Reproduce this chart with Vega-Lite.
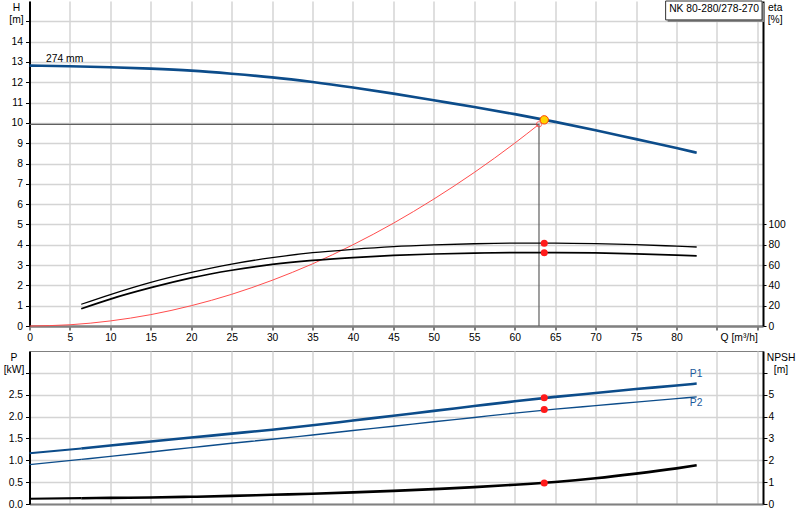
{
  "$schema": "https://vega.github.io/schema/vega-lite/v6.json",
  "padding": {"left": 2.5, "top": 0, "right": 0, "bottom": 0},
  "spacing": 7,
  "config": {
    "font": "Liberation Sans",
    "view": {"stroke": null},
    "axis": {
      "labelFont": "Liberation Sans", "labelFontSize": 10.3, "labelColor": "#000",
      "titleFont": "Liberation Sans", "titleFontSize": 10.3, "titleFontWeight": "normal", "titleColor": "#000",
      "tickColor": "#000", "tickSize": 4, "labelPadding": 3,
      "gridColor": "#d4d4d4", "gridWidth": 1.5
    },
    "line": {"interpolate": "monotone"},
    "text": {"font": "Liberation Sans", "fontSize": 10.3}
  },
  "datasets": {
    "head": [
      {"Q": 0, "H": 12.82}, {"Q": 5, "H": 12.79}, {"Q": 10, "H": 12.74}, {"Q": 15, "H": 12.67},
      {"Q": 20, "H": 12.57}, {"Q": 25, "H": 12.42}, {"Q": 30, "H": 12.24}, {"Q": 35, "H": 12.01},
      {"Q": 40, "H": 11.74}, {"Q": 45, "H": 11.44}, {"Q": 50, "H": 11.11}, {"Q": 55, "H": 10.78},
      {"Q": 60, "H": 10.43}, {"Q": 65, "H": 10.05}, {"Q": 70, "H": 9.64}, {"Q": 75, "H": 9.20},
      {"Q": 80, "H": 8.76}, {"Q": 82.5, "H": 8.53}
    ],
    "system": [
      {"Q": 0, "H": 0}, {"Q": 5, "H": 0.06}, {"Q": 10, "H": 0.25}, {"Q": 15, "H": 0.56},
      {"Q": 20, "H": 1.0}, {"Q": 25, "H": 1.56}, {"Q": 30, "H": 2.25}, {"Q": 35, "H": 3.06},
      {"Q": 40, "H": 4.0}, {"Q": 45, "H": 5.06}, {"Q": 50, "H": 6.25}, {"Q": 55, "H": 7.56},
      {"Q": 60, "H": 9.0}, {"Q": 63, "H": 9.93}
    ],
    "dutyLines": [
      {"Q": 0, "H": 9.93, "step": 1}, {"Q": 63, "H": 9.93, "step": 2}, {"Q": 63, "H": 0, "step": 3}
    ],
    "duty": [{"Q": 63, "H": 9.93}],
    "opHead": [{"Q": 63.65, "H": 10.15}],
    "curveLabel": [{"Q": 2.05, "H": 13.15, "text": "274 mm"}],
    "box": [{"Q": 78.66, "Q2": 90.58, "H": 15.07, "H2": 16, "Ht": 15.63, "name": "NK 80-280/278-270"}],
    "eta": [
      {"Q": 6.4, "eta": 21.4, "curve": "eta pump"}, {"Q": 10, "eta": 31.0, "curve": "eta pump"},
      {"Q": 15, "eta": 43.0, "curve": "eta pump"}, {"Q": 20, "eta": 52.8, "curve": "eta pump"},
      {"Q": 25, "eta": 61.0, "curve": "eta pump"}, {"Q": 30, "eta": 67.3, "curve": "eta pump"},
      {"Q": 35, "eta": 72.2, "curve": "eta pump"}, {"Q": 40, "eta": 75.5, "curve": "eta pump"},
      {"Q": 45, "eta": 78.1, "curve": "eta pump"}, {"Q": 50, "eta": 79.8, "curve": "eta pump"},
      {"Q": 55, "eta": 81.0, "curve": "eta pump"}, {"Q": 60, "eta": 81.6, "curve": "eta pump"},
      {"Q": 65, "eta": 81.6, "curve": "eta pump"}, {"Q": 70, "eta": 81.1, "curve": "eta pump"},
      {"Q": 75, "eta": 80.1, "curve": "eta pump"}, {"Q": 80, "eta": 78.6, "curve": "eta pump"},
      {"Q": 82.5, "eta": 77.8, "curve": "eta pump"},
      {"Q": 6.4, "eta": 17.0, "curve": "eta pump+motor"}, {"Q": 10, "eta": 26.5, "curve": "eta pump+motor"},
      {"Q": 15, "eta": 37.7, "curve": "eta pump+motor"}, {"Q": 20, "eta": 47.4, "curve": "eta pump+motor"},
      {"Q": 25, "eta": 54.9, "curve": "eta pump+motor"}, {"Q": 30, "eta": 60.6, "curve": "eta pump+motor"},
      {"Q": 35, "eta": 64.6, "curve": "eta pump+motor"}, {"Q": 40, "eta": 67.4, "curve": "eta pump+motor"},
      {"Q": 45, "eta": 69.5, "curve": "eta pump+motor"}, {"Q": 50, "eta": 70.9, "curve": "eta pump+motor"},
      {"Q": 55, "eta": 71.8, "curve": "eta pump+motor"}, {"Q": 60, "eta": 72.2, "curve": "eta pump+motor"},
      {"Q": 65, "eta": 72.2, "curve": "eta pump+motor"}, {"Q": 70, "eta": 71.9, "curve": "eta pump+motor"},
      {"Q": 75, "eta": 71.0, "curve": "eta pump+motor"}, {"Q": 80, "eta": 69.8, "curve": "eta pump+motor"},
      {"Q": 82.5, "eta": 69.0, "curve": "eta pump+motor"}
    ],
    "opEta": [{"Q": 63.65, "eta": 81.5}, {"Q": 63.65, "eta": 72.2}],
    "power": [
      {"Q": 0, "P": 1.16, "curve": "P1", "range": "outside"}, {"Q": 6.4, "P": 1.27, "curve": "P1", "range": "outside"},
      {"Q": 6.4, "P": 1.27, "curve": "P1", "range": "inside"}, {"Q": 10, "P": 1.34, "curve": "P1", "range": "inside"},
      {"Q": 15, "P": 1.43, "curve": "P1", "range": "inside"}, {"Q": 20, "P": 1.52, "curve": "P1", "range": "inside"},
      {"Q": 25, "P": 1.61, "curve": "P1", "range": "inside"}, {"Q": 30, "P": 1.70, "curve": "P1", "range": "inside"},
      {"Q": 35, "P": 1.80, "curve": "P1", "range": "inside"}, {"Q": 40, "P": 1.91, "curve": "P1", "range": "inside"},
      {"Q": 45, "P": 2.02, "curve": "P1", "range": "inside"}, {"Q": 50, "P": 2.13, "curve": "P1", "range": "inside"},
      {"Q": 55, "P": 2.24, "curve": "P1", "range": "inside"}, {"Q": 60, "P": 2.35, "curve": "P1", "range": "inside"},
      {"Q": 65, "P": 2.45, "curve": "P1", "range": "inside"}, {"Q": 70, "P": 2.54, "curve": "P1", "range": "inside"},
      {"Q": 75, "P": 2.63, "curve": "P1", "range": "inside"}, {"Q": 80, "P": 2.71, "curve": "P1", "range": "inside"},
      {"Q": 82.5, "P": 2.755, "curve": "P1", "range": "inside"},
      {"Q": 0, "P": 0.90, "curve": "P2", "range": "outside"}, {"Q": 6.4, "P": 1.02, "curve": "P2", "range": "outside"},
      {"Q": 6.4, "P": 1.02, "curve": "P2", "range": "inside"}, {"Q": 10, "P": 1.09, "curve": "P2", "range": "inside"},
      {"Q": 15, "P": 1.19, "curve": "P2", "range": "inside"}, {"Q": 20, "P": 1.29, "curve": "P2", "range": "inside"},
      {"Q": 25, "P": 1.39, "curve": "P2", "range": "inside"}, {"Q": 30, "P": 1.48, "curve": "P2", "range": "inside"},
      {"Q": 35, "P": 1.58, "curve": "P2", "range": "inside"}, {"Q": 40, "P": 1.68, "curve": "P2", "range": "inside"},
      {"Q": 45, "P": 1.78, "curve": "P2", "range": "inside"}, {"Q": 50, "P": 1.88, "curve": "P2", "range": "inside"},
      {"Q": 55, "P": 1.98, "curve": "P2", "range": "inside"}, {"Q": 60, "P": 2.08, "curve": "P2", "range": "inside"},
      {"Q": 65, "P": 2.17, "curve": "P2", "range": "inside"}, {"Q": 70, "P": 2.25, "curve": "P2", "range": "inside"},
      {"Q": 75, "P": 2.33, "curve": "P2", "range": "inside"}, {"Q": 80, "P": 2.41, "curve": "P2", "range": "inside"},
      {"Q": 82.5, "P": 2.45, "curve": "P2", "range": "inside"}
    ],
    "opPower": [{"Q": 63.65, "P": 2.43}, {"Q": 63.65, "P": 2.16}],
    "powerLabel": [{"Q": 81.65, "P": 2.975, "text": "P1"}, {"Q": 81.65, "P": 2.305, "text": "P2"}],
    "npsh": [
      {"Q": 0, "NPSH": 0.24, "range": "outside"}, {"Q": 6.4, "NPSH": 0.265, "range": "outside"},
      {"Q": 6.4, "NPSH": 0.265, "range": "inside"}, {"Q": 10, "NPSH": 0.28, "range": "inside"},
      {"Q": 15, "NPSH": 0.30, "range": "inside"}, {"Q": 20, "NPSH": 0.33, "range": "inside"},
      {"Q": 25, "NPSH": 0.37, "range": "inside"}, {"Q": 30, "NPSH": 0.42, "range": "inside"},
      {"Q": 35, "NPSH": 0.47, "range": "inside"}, {"Q": 40, "NPSH": 0.53, "range": "inside"},
      {"Q": 45, "NPSH": 0.60, "range": "inside"}, {"Q": 50, "NPSH": 0.68, "range": "inside"},
      {"Q": 55, "NPSH": 0.77, "range": "inside"}, {"Q": 60, "NPSH": 0.88, "range": "inside"},
      {"Q": 65, "NPSH": 1.01, "range": "inside"}, {"Q": 70, "NPSH": 1.18, "range": "inside"},
      {"Q": 75, "NPSH": 1.39, "range": "inside"}, {"Q": 80, "NPSH": 1.63, "range": "inside"},
      {"Q": 82.5, "NPSH": 1.77, "range": "inside"}
    ],
    "opNpsh": [{"Q": 63.65, "NPSH": 0.96}]
  },
  "vconcat": [
    {
      "width": 733.5,
      "height": 325,
      "encoding": {
        "x": {
          "field": "Q", "type": "quantitative",
          "scale": {"domain": [0, 90.7], "nice": false, "zero": false},
          "axis": {
            "values": [0, 5, 10, 15, 20, 25, 30, 35, 40, 45, 50, 55, 60, 65, 70, 75, 80, 85, 90],
            "labelExpr": "datum.value > 80 ? '' : datum.label",
            "labelFlush": false, "labelOverlap": false,
            "title": "Q [m³/h]", "titleX": 727.8, "titleY": 6, "titleAlign": "right", "titleBaseline": "top",
            "domainColor": "#808080", "domainWidth": 2.5, "tickSize": 4, "labelPadding": 2, "grid": true
          }
        }
      },
      "layer": [
        {
          "encoding": {
            "y": {
              "field": "H", "type": "quantitative",
              "scale": {"domain": [0, 16], "nice": false, "zero": false},
              "axis": {
                "values": [0, 1, 2, 3, 4, 5, 6, 7, 8, 9, 10, 11, 12, 13, 14, 15],
                "labelExpr": "datum.value > 14 ? '' : datum.label",
                "title": ["H", "[m]"], "titleAngle": 0, "titleAlign": "center", "titleBaseline": "top",
                "titleX": -13.5, "titleY": 1, "titleLineHeight": 12,
                "domainColor": "#000", "domainWidth": 2, "grid": true
              }
            }
          },
          "layer": [
            {
              "data": {"name": "system"},
              "mark": {"type": "line", "color": "#ff4d4d", "strokeWidth": 1}
            },
            {
              "data": {"name": "dutyLines"},
              "mark": {"type": "line", "color": "#606060", "strokeWidth": 1.2, "interpolate": "linear"},
              "encoding": {"order": {"field": "step", "type": "quantitative"}}
            },
            {
              "data": {"name": "head"},
              "mark": {"type": "line", "color": "#0c4c8a", "strokeWidth": 2.6}
            },
            {
              "data": {"name": "duty"},
              "mark": {"type": "point", "shape": "circle", "filled": false, "stroke": "#ff3030", "strokeWidth": 1, "size": 28}
            },
            {
              "data": {"name": "opHead"},
              "mark": {"type": "point", "shape": "circle", "filled": true, "fill": "#ffd400", "stroke": "#ff4000", "strokeWidth": 1, "size": 70, "opacity": 1}
            },
            {
              "data": {"name": "curveLabel"},
              "mark": {"type": "text", "align": "left", "baseline": "middle", "color": "#000"},
              "encoding": {"text": {"field": "text"}}
            },
            {
              "data": {"name": "box"},
              "mark": {"type": "rect", "fill": "#8a8a8a", "xOffset": 2, "x2Offset": 2, "yOffset": 2, "y2Offset": 2},
              "encoding": {"x2": {"field": "Q2"}, "y2": {"field": "H2"}}
            },
            {
              "data": {"name": "box"},
              "mark": {"type": "rect", "fill": "#ffffff", "stroke": "#333333", "strokeWidth": 1},
              "encoding": {"x2": {"field": "Q2"}, "y2": {"field": "H2"}}
            },
            {
              "data": {"name": "box"},
              "mark": {"type": "text", "align": "left", "baseline": "middle", "dx": 3.5, "color": "#000"},
              "encoding": {"y": {"field": "Ht", "type": "quantitative", "title": ["H", "[m]"]}, "text": {"field": "name"}}
            }
          ]
        },
        {
          "encoding": {
            "y": {
              "field": "eta", "type": "quantitative",
              "scale": {"domain": [0, 320], "nice": false, "zero": false},
              "axis": {
                "orient": "right", "values": [0, 20, 40, 60, 80, 100],
                "title": ["eta", "[%]"], "titleAngle": 0, "titleAlign": "center", "titleBaseline": "top",
                "titleX": 11.7, "titleY": 1, "titleLineHeight": 12,
                "grid": false, "domainColor": "#000", "domainWidth": 2, "tickSize": 3, "labelPadding": 2
              }
            }
          },
          "layer": [
            {
              "data": {"name": "eta"},
              "mark": {"type": "line", "color": "#000"},
              "encoding": {
                "detail": {"field": "curve"},
                "strokeWidth": {"field": "curve", "type": "ordinal", "scale": {"domain": ["eta pump", "eta pump+motor"], "range": [1.3, 2.6]}, "legend": null}
              }
            },
            {
              "data": {"name": "opEta"},
              "mark": {"type": "point", "shape": "circle", "filled": true, "color": "#ff1a1a", "size": 50, "opacity": 1}
            }
          ]
        }
      ],
      "resolve": {"scale": {"y": "independent"}, "axis": {"y": "independent"}}
    },
    {
      "width": 733.5,
      "height": 153,
      "view": {"stroke": "#808080", "strokeWidth": 1},
      "encoding": {
        "x": {
          "field": "Q", "type": "quantitative",
          "scale": {"domain": [0, 90.7], "nice": false, "zero": false},
          "axis": {
            "values": [0, 5, 10, 15, 20, 25, 30, 35, 40, 45, 50, 55, 60, 65, 70, 75, 80, 85, 90],
            "labels": false, "ticks": false, "title": null,
            "domainColor": "#808080", "domainWidth": 2, "grid": true
          }
        }
      },
      "layer": [
        {
          "encoding": {
            "y": {
              "field": "P", "type": "quantitative",
              "scale": {"domain": [0, 3.5], "nice": false, "zero": false},
              "axis": {
                "values": [0, 0.5, 1, 1.5, 2, 2.5, 3], "format": ".1f",
                "labelExpr": "datum.value > 2.9 ? '' : datum.label",
                "title": ["P", "[kW]"], "titleAngle": 0, "titleAlign": "center", "titleBaseline": "top",
                "titleX": -16, "titleY": 1, "titleLineHeight": 12,
                "domainColor": "#000", "domainWidth": 2, "grid": true
              }
            }
          },
          "layer": [
            {
              "data": {"name": "power"},
              "transform": [{"filter": "datum.curve == 'P1'"}],
              "mark": {"type": "line", "color": "#0c4c8a"},
              "encoding": {
                "detail": {"field": "range"},
                "strokeWidth": {"field": "range", "type": "ordinal", "scale": {"domain": ["outside", "inside"], "range": [1.3, 2.6]}, "legend": null}
              }
            },
            {
              "data": {"name": "power"},
              "transform": [{"filter": "datum.curve == 'P2'"}],
              "mark": {"type": "line", "color": "#0c4c8a", "strokeWidth": 1.4},
              "encoding": {"detail": {"field": "range"}}
            },
            {
              "data": {"name": "opPower"},
              "mark": {"type": "point", "shape": "circle", "filled": true, "color": "#ff1a1a", "size": 50, "opacity": 1}
            },
            {
              "data": {"name": "powerLabel"},
              "mark": {"type": "text", "align": "left", "baseline": "middle", "color": "#1b5a9c"},
              "encoding": {"text": {"field": "text"}}
            }
          ]
        },
        {
          "encoding": {
            "y": {
              "field": "NPSH", "type": "quantitative",
              "scale": {"domain": [0, 7], "nice": false, "zero": false},
              "axis": {
                "orient": "right", "values": [0, 1, 2, 3, 4, 5, 6],
                "labelExpr": "datum.value > 5 ? '' : datum.label",
                "title": ["NPSH", "[m]"], "titleAngle": 0, "titleAlign": "center", "titleBaseline": "top",
                "titleX": 17.5, "titleY": 1, "titleLineHeight": 12,
                "grid": false, "domainColor": "#000", "domainWidth": 2, "tickSize": 4, "labelPadding": 1
              }
            }
          },
          "layer": [
            {
              "data": {"name": "npsh"},
              "mark": {"type": "line", "color": "#000"},
              "encoding": {
                "detail": {"field": "range"},
                "strokeWidth": {"field": "range", "type": "ordinal", "scale": {"domain": ["outside", "inside"], "range": [1.3, 2.6]}, "legend": null}
              }
            },
            {
              "data": {"name": "opNpsh"},
              "mark": {"type": "point", "shape": "circle", "filled": true, "color": "#ff1a1a", "size": 50, "opacity": 1}
            }
          ]
        }
      ],
      "resolve": {"scale": {"y": "independent"}, "axis": {"y": "independent"}}
    }
  ]
}
